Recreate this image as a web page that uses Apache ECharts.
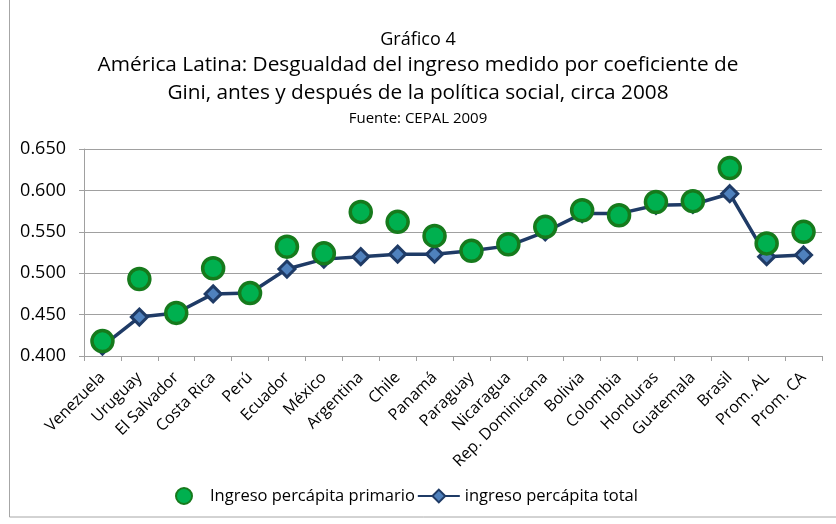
<!DOCTYPE html>
<html><head><meta charset="utf-8">
<script src="https://cdn.jsdelivr.net/npm/echarts@6/dist/echarts.min.js"></script>
<style>html,body{margin:0;padding:0;background:#fff}#c{width:836px;height:524px}</style>
</head><body><div id="c"></div>
<script>
const categories = ["Venezuela","Uruguay","El Salvador","Costa Rica","Perú","Ecuador","México","Argentina","Chile","Panamá","Paraguay","Nicaragua","Rep. Dominicana","Bolivia","Colombia","Honduras","Guatemala","Brasil","Prom. AL","Prom. CA"];
const primario = [0.418,0.493,0.452,0.506,0.476,0.532,0.524,0.574,0.562,0.545,0.527,0.535,0.556,0.576,0.570,0.586,0.587,0.627,0.536,0.550];
const total    = [0.412,0.447,0.452,0.475,0.476,0.505,0.517,0.520,0.523,0.523,0.527,0.533,0.550,0.572,0.572,0.582,0.583,0.596,0.520,0.522];
const font = "'Open Sans', 'Liberation Sans', Arial, sans-serif";
const chart = echarts.init(document.getElementById('c'));
chart.setOption({
  animation:false,
  backgroundColor:'#fff',
  graphic:[{type:'rect',shape:{x:9.5,y:-2,width:840,height:519},style:{fill:'none',stroke:'#a6a6a6',lineWidth:1}}],
  title:[
    {text:'Gráfico 4',left:'center',top:26,textStyle:{fontFamily:font,fontSize:18,fontWeight:'normal',color:'#000'}},
    {text:'América Latina: Desgualdad del ingreso medido por coeficiente de',left:'center',top:50,textStyle:{fontFamily:font,fontSize:20.8,fontWeight:'normal',color:'#000'}},
    {text:'Gini, antes y después de la política social, circa 2008',left:'center',top:78,textStyle:{fontFamily:font,fontSize:20.8,fontWeight:'normal',color:'#000'}},
    {text:'Fuente: CEPAL 2009',left:'center',top:106,textStyle:{fontFamily:font,fontSize:15,fontWeight:'normal',color:'#000'}}
  ],
  legend:{bottom:14,left:170,itemGap:2,itemWidth:42,itemHeight:16,textStyle:{fontFamily:font,fontSize:16.5,color:'#000'},
    data:[{name:'Ingreso percápita primario',icon:'circle'},{name:'ingreso percápita total'}]},
  grid:{left:84,right:14,top:149,bottom:168},
  xAxis:{type:'category',data:categories,boundaryGap:true,
    axisLine:{lineStyle:{color:'#a0a0a0'}},axisTick:{show:true,length:5,lineStyle:{color:'#a0a0a0'}},
    axisLabel:{rotate:45,interval:0,fontFamily:font,fontSize:16,color:'#000',margin:19}},
  yAxis:{type:'value',min:0.4,max:0.65,interval:0.05,
    axisLine:{show:true,lineStyle:{color:'#a0a0a0'}},axisTick:{show:true,length:5,inside:false,lineStyle:{color:'#a0a0a0'}},
    splitLine:{lineStyle:{color:'#a0a0a0'}},
    axisLabel:{formatter:v=>v.toFixed(3),fontFamily:font,fontSize:18,color:'#000',margin:18}},
  series:[
    {name:'ingreso percápita total',type:'line',data:total,symbol:'diamond',symbolSize:16,z:2,
      lineStyle:{color:'#1f3b66',width:3.5},itemStyle:{color:'#4f81bd',borderColor:'#1f3b66',borderWidth:3,opacity:1}},
    {name:'Ingreso percápita primario',type:'scatter',data:primario,symbol:'circle',symbolSize:21,z:3,
      itemStyle:{color:'#00b04f',borderColor:'#167a1c',borderWidth:3.5,opacity:1}}
  ]
});
</script></body></html>
